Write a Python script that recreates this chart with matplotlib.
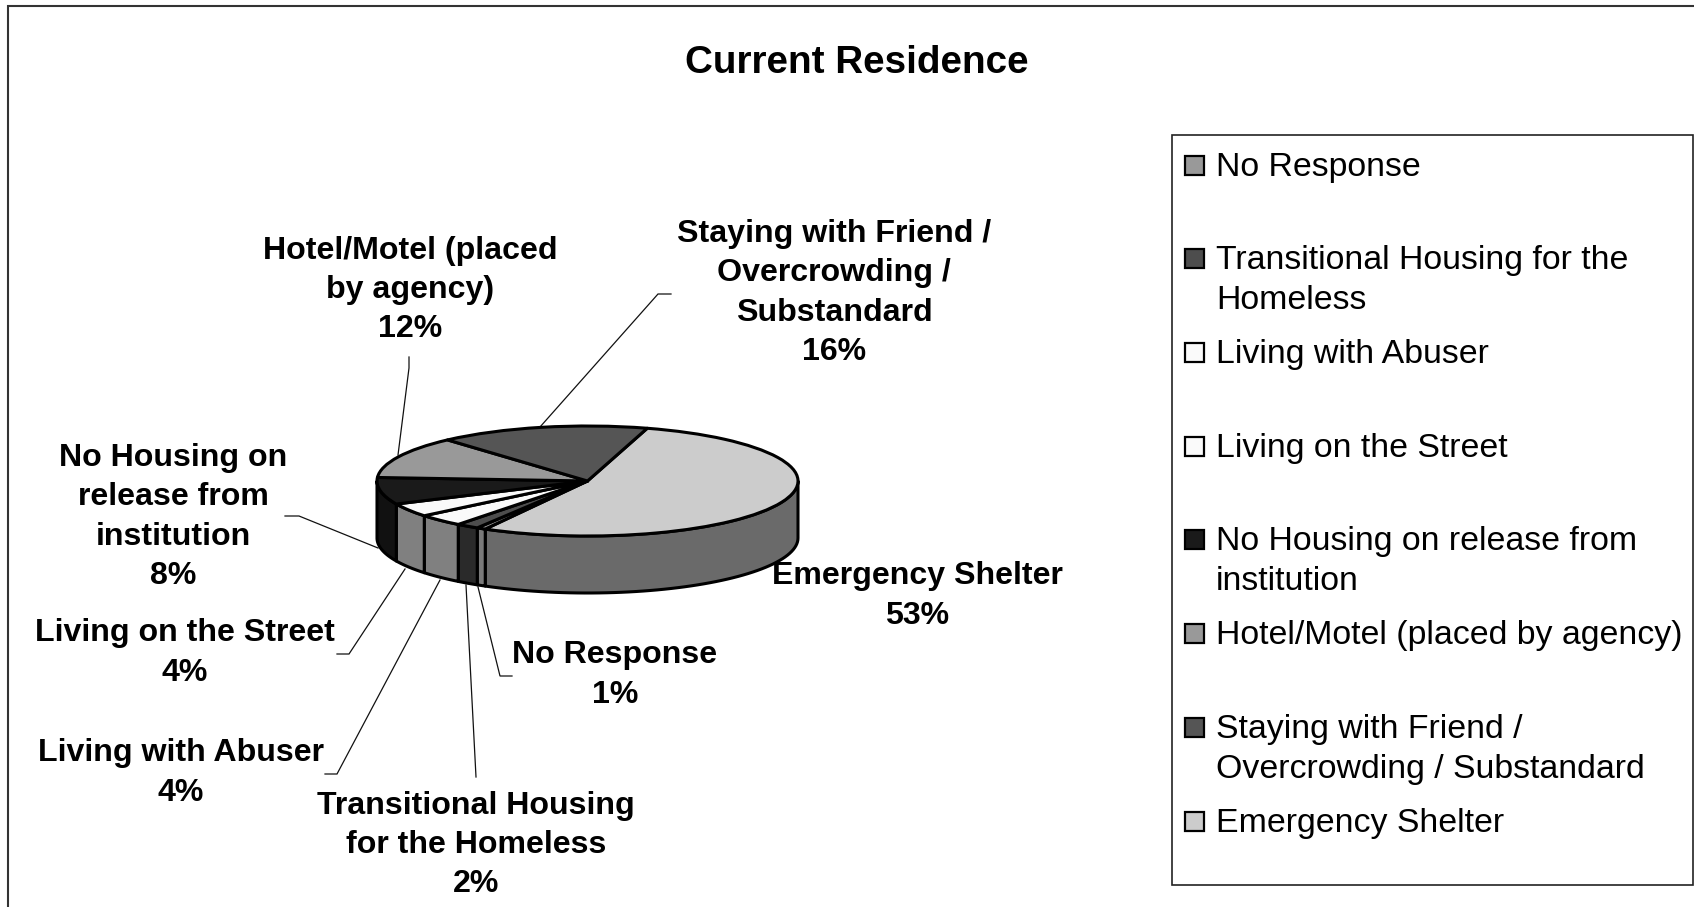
import numpy as np
import matplotlib
matplotlib.use("Agg")
import matplotlib.pyplot as plt
from matplotlib.patches import Polygon, Rectangle

W, H = 1694, 907
plt.rcParams['font.family'] = ['Liberation Sans', 'DejaVu Sans']

# ---- data (clockwise starting with Emergency Shelter) ----
categories = ["Emergency Shelter", "No Response", "Transitional Housing for the Homeless",
              "Living with Abuser", "Living on the Street",
              "No Housing on release from institution",
              "Hotel/Motel (placed by agency)",
              "Staying with Friend / Overcrowding / Substandard"]
values = [53.49, 0.7, 1.75, 3.6, 4.0, 7.9, 12.4, 16.16]
data_labels = ["Emergency Shelter", "No Response", "Transitional Housing\nfor the Homeless",
               "Living with Abuser", "Living on the Street",
               "No Housing on\nrelease from\ninstitution",
               "Hotel/Motel (placed\nby agency)",
               "Staying with Friend /\nOvercrowding /\nSubstandard"]
legend_labels = ["Emergency Shelter", "No Response", "Transitional Housing for the\nHomeless",
                 "Living with Abuser", "Living on the Street",
                 "No Housing on release from\ninstitution",
                 "Hotel/Motel (placed by agency)",
                 "Staying with Friend /\nOvercrowding / Substandard"]
top_colors = ["#cccccc", "#999999", "#4d4d4d", "#fafafa", "#fafafa", "#1a1a1a", "#999999", "#555555"]
side_colors = ["#6a6a6a", "#7a7a7a", "#2a2a2a", "#808080", "#808080", "#111111", "#4d4d4d", "#2b2b2b"]
title = "Current Residence"

# label centres, px: x, y of the middle of the text block
label_pos = [(917, 596), (615, 675), (476, 845), (181, 773), (185, 653), (173, 517), (410, 290), (834, 293)]
# leader lines, px
leaders = [None,
           [(478, 587), (500, 676), (512, 676)],
           [(466, 585), (476, 777)],
           [(440, 580), (337, 774), (325, 774)],
           [(405, 569), (349, 654), (337, 654)],
           [(378, 548), (299, 516), (285, 516)],
           [(398, 455), (409, 368), (409, 357)],
           [(540, 427), (658, 294), (671, 294)]]
legend_y = [165, 258, 352, 446, 539, 633, 727, 821]

# ---- figure ----
fig = plt.figure(figsize=(W / 100, H / 100), dpi=100, facecolor="white")
ov = fig.add_axes([0, 0, 1, 1], zorder=1)
ov.set_xlim(0, W); ov.set_ylim(H, 0); ov.axis("off")

# pie axes: 1 data unit = 210.5 px across, 55 px down
cx, cy, a, b, depth = 587.5, 481, 210.5, 55, 57
xr, yt, yb = 1.2, 1.2, 2.4
ax = fig.add_axes([(cx - xr * a) / W, 1 - (cy + yb * b) / H, 2 * xr * a / W, (yt + yb) * b / H], zorder=2)
ax.patch.set_alpha(0)

start = 16.5  # clockwise from top
ax.pie(values, startangle=90 - start, counterclock=False, colors=top_colors, radius=1,
       normalize=True, wedgeprops=dict(edgecolor="black", linewidth=2.2, joinstyle="round", zorder=3))
ax.set_aspect("auto")
ax.set_xlim(-xr, xr); ax.set_ylim(-yb, yt)
ax.axis("off")

d = depth / b
edges = start + np.cumsum([0] + values) * 3.6
for t0, t1, c in zip(edges[:-1], edges[1:], side_colors):
    lo, hi = max(t0, 90), min(t1, 270)
    if hi <= lo:
        continue
    t = np.radians(np.linspace(lo, hi, 60))
    x, y = np.sin(t), np.cos(t)
    pts = np.r_[np.c_[x, y], np.c_[x[::-1], y[::-1] - d]]
    ax.add_patch(Polygon(pts, closed=True, facecolor=c, edgecolor="black", linewidth=2.2,
                         joinstyle="round", zorder=2))

# frame: top and left only
ov.plot([8, 8, W], [H, 6, 6], color="#333333", lw=1.5, solid_joinstyle="miter")

ov.text(857, 63, title, ha="center", va="center", fontsize=27.8, fontweight="bold", color="black")

for name, v, (x, y), leader in zip(data_labels, values, label_pos, leaders):
    ov.text(x, y, f"{name}\n{round(v)}%", ha="center", va="center", fontsize=23.1,
            fontweight="bold", color="black", linespacing=1.40, multialignment="center")
    if leader:
        lx, ly = zip(*leader)
        ov.plot(lx, ly, color="#111111", lw=0.9, solid_joinstyle="miter")

# legend (reverse order of the slices, manual because of its uneven rows)
ov.add_patch(Rectangle((1172, 135), W - 1 - 1172, 750, facecolor="white", edgecolor="#222222", lw=1.2))
order = [1, 2, 3, 4, 5, 6, 7, 0]
for i, y in zip(order, legend_y):
    ov.add_patch(Rectangle((1185, y - 9.5), 19, 19, facecolor=top_colors[i], edgecolor="black", lw=1.6))
    ov.text(1216, y - 13, legend_labels[i], ha="left", va="top", fontsize=24.4, color="black",
            linespacing=1.38)

fig.savefig("out.png", dpi=100)
